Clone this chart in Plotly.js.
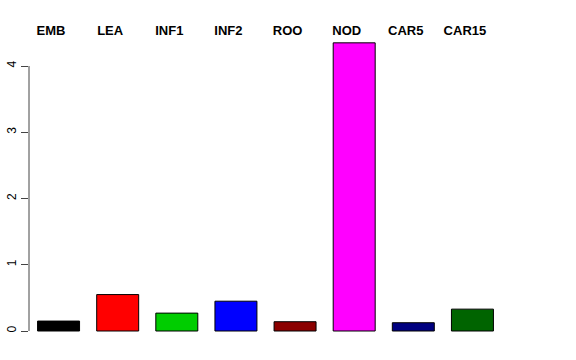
<!DOCTYPE html>
<html>
<head>
<meta charset="utf-8">
<script src="https://cdn.plot.ly/plotly-3.0.1.min.js"></script>
<style>html,body{margin:0;padding:0;background:#fff;}#chart{width:576px;height:360px;}</style>
</head>
<body>
<div id="chart"></div>
<script>
const categories = ["EMB", "LEA", "INF1", "INF2", "ROO", "NOD", "CAR5", "CAR15"];
const values = [0.15, 0.55, 0.27, 0.45, 0.14, 4.35, 0.125, 0.33];
const barColors = ["#000000", "#FF0000", "#00CD00", "#0000FF", "#8B0000", "#FF00FF", "#000080", "#006400"];
const yTickVals = [0, 1, 2, 3, 4];
const yTickText = ["0", "1", "2", "3", "4"];

const idx = categories.map((c, i) => i);

const trace = {
  type: "bar",
  x: idx,
  y: values,
  marker: { color: barColors, line: { color: "#000000", width: 1 } },
  hoverinfo: "skip",
  showlegend: false
};

const layout = {
  width: 576,
  height: 360,
  margin: { l: 29, r: 74, t: 39, b: 18, pad: 0 },
  paper_bgcolor: "#ffffff",
  plot_bgcolor: "#ffffff",
  bargap: 0.29,
  font: { family: "Liberation Sans, Arial, sans-serif", color: "#000000" },
  xaxis: {
    range: [-0.5, 7.5],
    showgrid: false, zeroline: false, showline: false,
    showticklabels: false, ticks: ""
  },
  xaxis2: {
    overlaying: "x",
    side: "top",
    anchor: "y",
    range: [-0.373, 7.627],
    tickmode: "array",
    tickvals: idx,
    ticktext: categories,
    tickfont: { family: "Liberation Sans, Arial, sans-serif", size: 13, color: "#000000", weight: "bold" },
    showgrid: false, zeroline: false, showline: false, ticks: ""
  },
  yaxis: {
    range: [-0.166, 4.408],
    tickmode: "array",
    tickvals: yTickVals,
    ticktext: yTickText,
    tickangle: -90,
    ticks: "outside",
    ticklen: 7,
    tickcolor: "#444444",
    tickwidth: 1,
    tickfont: { size: 12, color: "#000000" },
    showgrid: false, zeroline: false, showline: false
  },
  shapes: [
    { type: "line", xref: "paper", yref: "y", x0: 0, x1: 0, y0: 0, y1: 4,
      line: { color: "#444444", width: 1 } }
  ]
};

Plotly.newPlot("chart", [trace, { type: "scatter", x: [], y: [], xaxis: "x2", showlegend: false }], layout, { staticPlot: true, displayModeBar: false });
</script>
</body>
</html>
